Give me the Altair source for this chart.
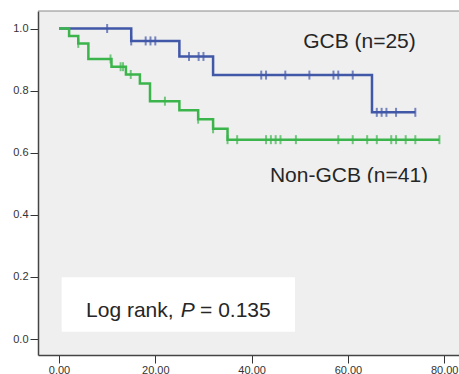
import altair as alt
import pandas as pd

# Kaplan-Meier step functions: time of each step and survival after it
gcb_times = [0, 15, 25, 32, 65, 74]
gcb_surv = [1.0, 0.96, 0.91, 0.85, 0.73, 0.73]
gcb_censored = [10, 15, 18, 19, 20, 27, 29, 30, 42, 43, 47, 52, 57, 58, 61,
                66, 67, 68, 70, 74]

non_times = [0, 2.1, 4, 6.1, 10.9, 13.9, 16.8, 18.9, 25, 28.9, 32, 35, 79]
non_surv = [1.0, 0.976, 0.952, 0.902, 0.877, 0.852, 0.823, 0.766, 0.737,
            0.708, 0.677, 0.642, 0.642]
non_censored = [4, 10.7, 12.8, 13.3, 14.9, 22, 28.9, 32, 35, 37, 43, 44, 45,
                46, 49.2, 58, 61, 64, 66, 69, 70, 72, 74, 79]

groups = ["GCB", "Non-GCB"]
colors = ["#4157a8", "#3bb54b"]

x_ticks = [0, 20, 40, 60, 80]
y_ticks = [0.0, 0.2, 0.4, 0.6, 0.8, 1.0]


def surv_at(t, times, surv):
    """Value of the step function at time t (right-continuous)."""
    val = surv[0]
    for tt, s in zip(times, surv):
        if tt <= t:
            val = s
    return val


curves = pd.concat([
    pd.DataFrame({"group": "GCB", "t": gcb_times, "s": gcb_surv}),
    pd.DataFrame({"group": "Non-GCB", "t": non_times, "s": non_surv}),
])
censor = pd.concat([
    pd.DataFrame({"group": "GCB", "t": gcb_censored,
                  "s": [surv_at(t, gcb_times, gcb_surv) for t in gcb_censored]}),
    pd.DataFrame({"group": "Non-GCB", "t": non_censored,
                  "s": [surv_at(t, non_times, non_surv) for t in non_censored]}),
])

W, H = 421, 344
FONT = "Liberation Sans"

x_scale = alt.Scale(domain=[-4.36, 83.07], nice=False, zero=False)
y_scale = alt.Scale(domain=[-0.0515, 1.0564], nice=False, zero=False)
color_scale = alt.Scale(domain=groups, range=colors)

x_axis = alt.Axis(values=x_ticks, format=".2f", title=None, grid=False,
                  tickSize=8, tickColor="#333", labelPadding=1,
                  domainColor="#444", domainWidth=1.5)
y_axis = alt.Axis(values=y_ticks, format=".1f", title=None, grid=False,
                  tickSize=8, tickColor="#333", labelPadding=2,
                  domainColor="#444", domainWidth=1.5)

# white box behind the log-rank annotation
box = alt.Chart().mark_rect(color="white").encode(
    x=alt.datum(0.56), x2=alt.datum(49.0),
    y=alt.datum(0.0235), y2=alt.datum(0.199),
)

lines = alt.Chart(curves).mark_line(interpolate="step-after", strokeWidth=2.5).encode(
    x=alt.X("t:Q", scale=x_scale, axis=x_axis),
    y=alt.Y("s:Q", scale=y_scale, axis=y_axis),
    color=alt.Color("group:N", scale=color_scale, legend=None),
    detail="group:N",
)

ticks = alt.Chart(censor).mark_tick(orient="vertical", size=9, thickness=2).encode(
    x="t:Q",
    y="s:Q",
    color=alt.Color("group:N", scale=color_scale, legend=None),
)


def label(text, t, s, italic=False, align="left"):
    return alt.Chart().mark_text(
        text=text, font=FONT, fontSize=21, color="#262626", align=align,
        baseline="alphabetic", fontStyle="italic" if italic else "normal",
    ).encode(x=alt.datum(t), y=alt.datum(s))


texts = [
    label("GCB (n=25)", 50.7, 0.936),
    label("Non-GCB (n=41)", 43.8, 0.505),
    label("Log rank,", 23.8, 0.070, align="right"),
    label("P", 25.3, 0.070, italic=True),
    label("= 0.135", 29.3, 0.070),
]

# the group label box is cut off along its lower edge
mask = alt.Chart().mark_rect(color="#efefef").encode(
    x=alt.datum(42.5), x2=alt.datum(81.0),
    y=alt.datum(0.48), y2=alt.datum(0.5035),
)

top_border = alt.Chart().mark_rule(color="#8a8a8a", strokeWidth=1).encode(
    x=alt.value(0), x2=alt.value(W), y=alt.value(0)
)

chart = alt.layer(lines, box, ticks, *texts, mask, top_border).properties(
    width=W, height=H,
    padding={"left": 38, "top": 11, "right": 0, "bottom": 19},
    autosize=alt.AutoSizeParams(type="none"),
    background="white",
).configure_view(
    stroke=None, fill="#efefef"
).configure_axis(
    labelFont=FONT, labelFontSize=11, labelColor="#333"
)

chart.save("out.html", embed_options={"renderer": "svg", "actions": False})
